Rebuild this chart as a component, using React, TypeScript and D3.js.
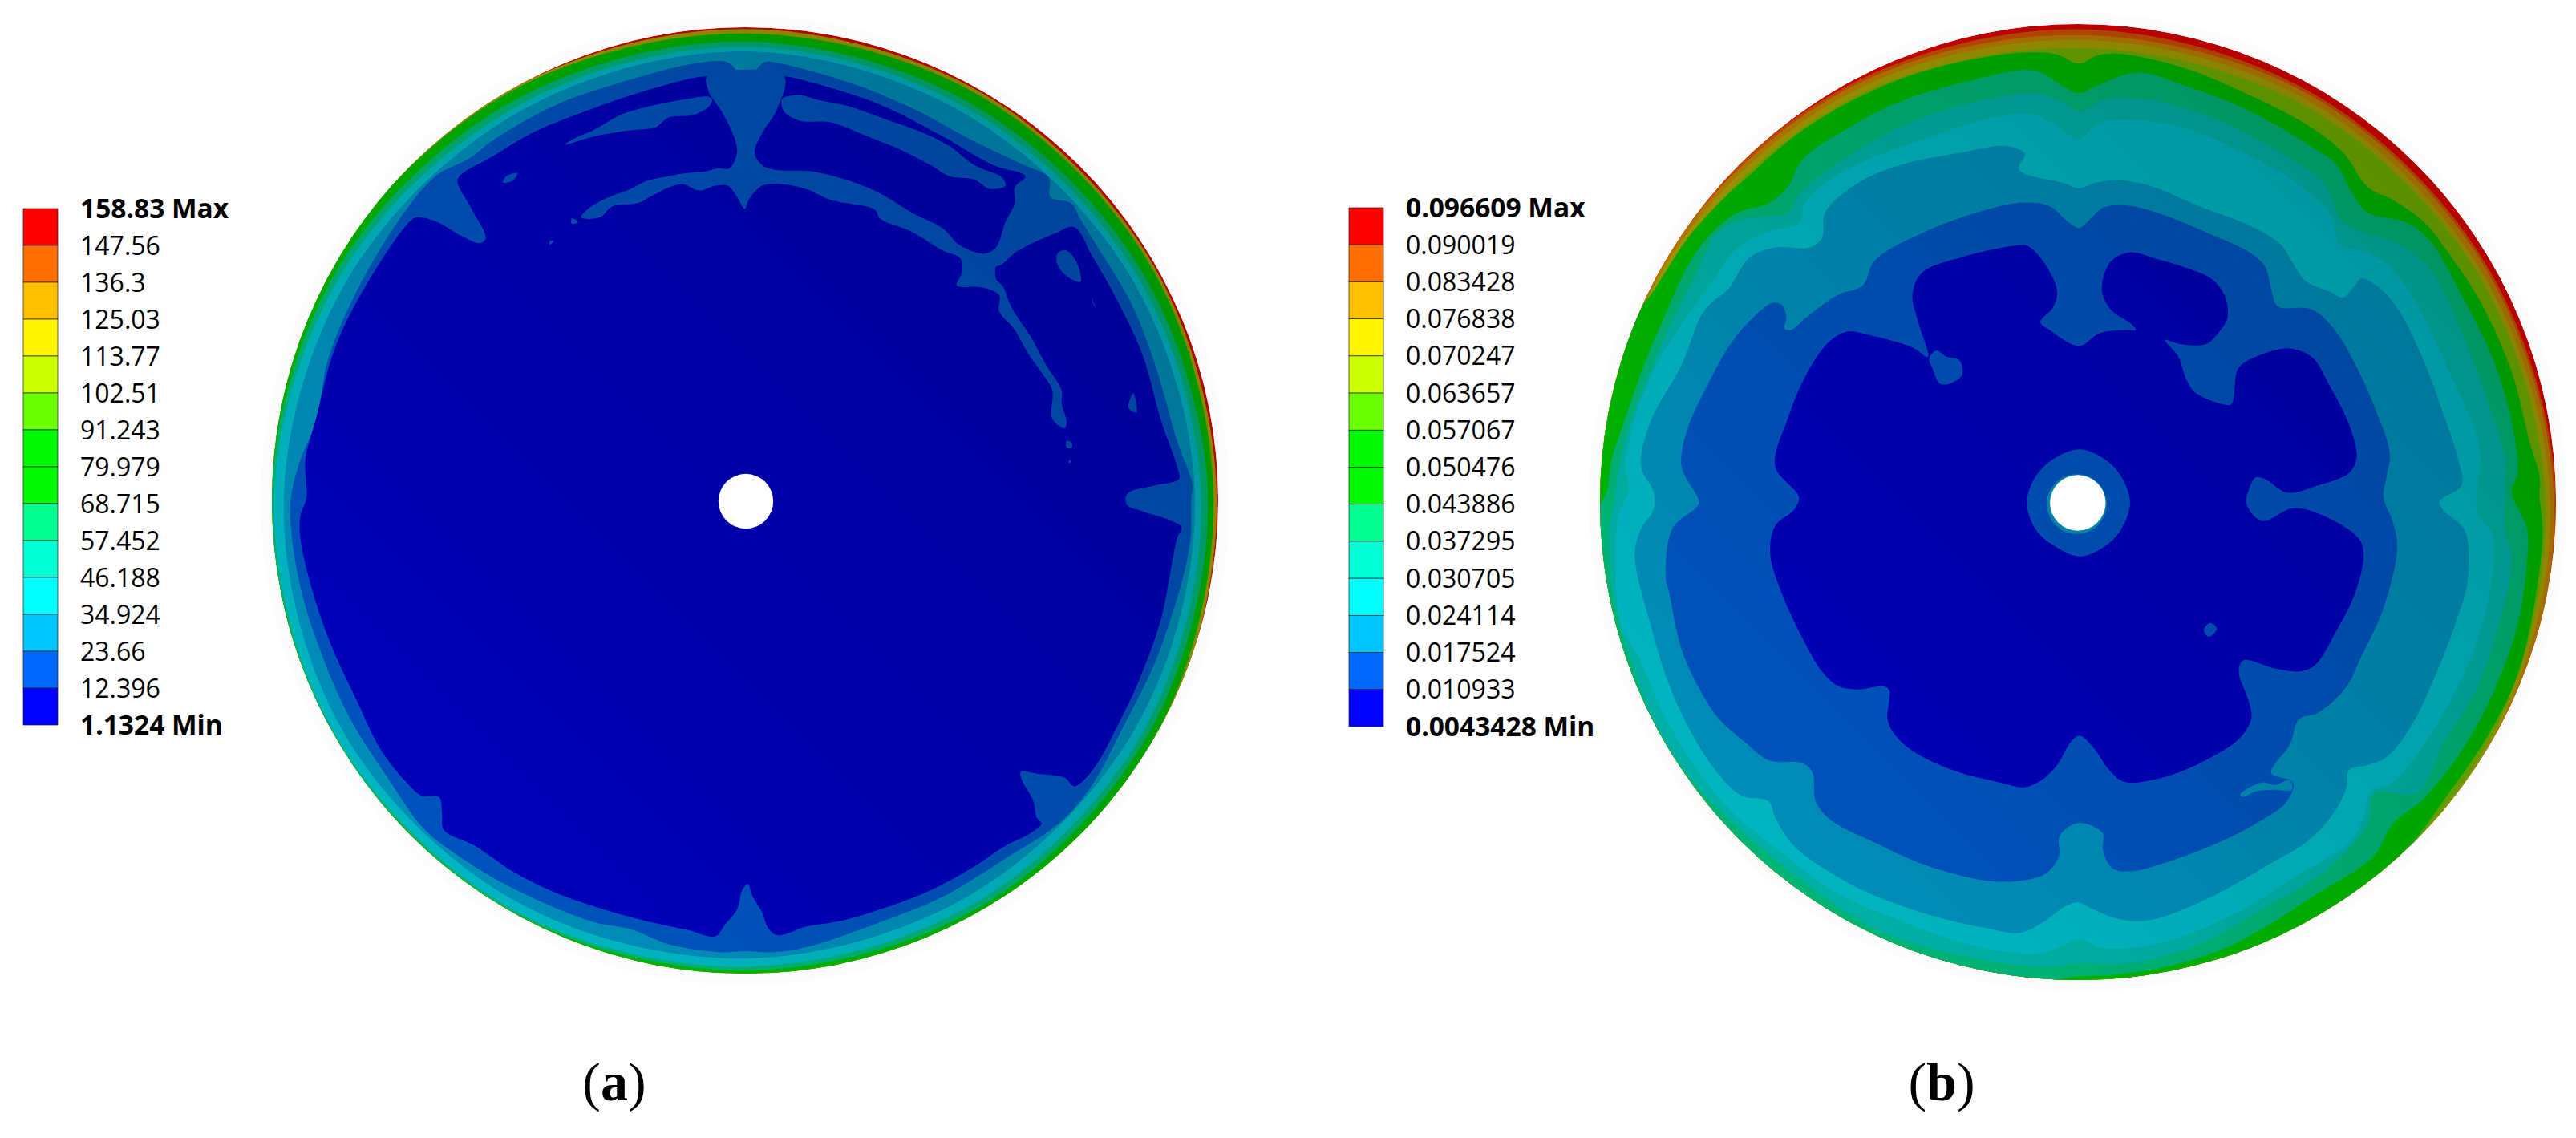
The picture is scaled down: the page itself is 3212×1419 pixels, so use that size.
import React from 'react'
import * as d3 from 'd3'

type Pt = [number, number]

// legend values
const labelsA = ['158.83 Max', '147.56', '136.3', '125.03', '113.77', '102.51', '91.243', '79.979', '68.715', '57.452', '46.188', '34.924', '23.66', '12.396', '1.1324 Min']
const labelsB = ['0.096609 Max', '0.090019', '0.083428', '0.076838', '0.070247', '0.063657', '0.057067', '0.050476', '0.043886', '0.037295', '0.030705', '0.024114', '0.017524', '0.010933', '0.0043428 Min']
const legendColors = ['#ff0000', '#ff6e00', '#ffc000', '#fff500', '#ccff00', '#6cff00', '#00f800', '#00f800', '#00ff90', '#00ffd4', '#00ffff', '#00c6ff', '#0068ff', '#0000ff']

// band colours of the plot (a little dimmer than the legend, the render is shaded)
const cCore = '#0000bc'
const cBlue = '#0054c0'
const cTeal = '#008fbb'
const cCyan = '#00b8c4'
const cCyan2 = '#00b2a8'
const cSea = '#00b678'
const cGreen = '#00b800'
const cLime = '#70b000'
const cOlive = '#a8a000'
const cAmber = '#c08000'
const cOrange = '#d05000'
const cRed = '#e00000'

// rim bands: radius in % of the disc radius, read every 30 deg clockwise from the top
const rimAngles = [0, 30, 60, 90, 120, 150, 180, 210, 240, 270, 300, 330]
const rimA_olive = [99.6, 99.6, 99.6, 99.7, 100.5, 101, 101, 101, 101, 101, 101, 100]
const rimA_green = [98.7, 98.9, 99, 99, 100, 100.5, 100.5, 100.5, 100.5, 100.5, 100.5, 99.6]
const rimA_sea = [97, 96.5, 96.8, 97.8, 98.5, 99.2, 99.3, 99.9, 100.1, 100, 99, 97.6]
const rimA_cyan = [95.9, 95.2, 95.5, 96.4, 97.3, 98, 98.5, 99.4, 99.7, 99.5, 97.8, 96.2]
const rimA_teal = [94.9, 94, 94.2, 95.1, 95.5, 96, 96.8, 97.6, 98, 97.5, 96.1, 95]

const rimB_orange = [98.9, 98.6, 98.8, 100, 101, 101, 101, 101, 101, 101, 101, 99.6]
const rimB_amber = [97.7, 98, 98.3, 99.6, 101, 101, 101, 101, 101, 101, 100.2, 99]
const rimB_olive = [96.7, 96.8, 97.2, 98.8, 100, 101, 101, 101, 101, 101, 99.5, 98]
const rimB_lime = [95, 95.5, 96.3, 97.8, 99.5, 101, 101, 101, 101, 101, 98.5, 96.8]

// contours, x and y on a digitising grid of the disc
const aBlue: Pt[] = [[750, 143], [762, 155], [775, 190], [785, 196], [800, 170], [815, 145], [840, 150], [950, 210], [1050, 290], [1150, 395], [1230, 470], [1270, 510], [1272, 570], [1305, 590], [1320, 640], [1345, 720], [1400, 900], [1440, 1100], [1475, 1340], [1500, 1480], [1498, 1517], [1497, 1637], [1485, 1767], [1440, 2037], [1390, 2237], [1335, 2437], [1285, 2547], [1200, 2657], [1100, 2777], [1000, 2857], [880, 2937], [830, 2952], [784, 2949], [740, 2952], [660, 2927], [600, 2880], [540, 2857], [405, 2745], [310, 2630], [265, 2557], [215, 2417], [150, 2217], [105, 2017], [72, 1817], [55, 1617], [55, 1517], [70, 1400], [95, 1280], [115, 1080], [165, 850], [240, 610], [290, 500], [340, 450], [380, 390], [480, 280], [600, 200], [700, 150]]
const aCore: Pt[] = [[700, 195], [722, 190], [784, 196], [845, 190], [900, 215], [1000, 280], [1100, 380], [1180, 470], [1232, 505], [1215, 540], [1215, 590], [1200, 650], [1185, 730], [1165, 750], [1150, 745], [1185, 790], [1220, 740], [1280, 685], [1310, 665], [1340, 760], [1380, 900], [1420, 1070], [1450, 1280], [1475, 1420], [1478, 1460], [1440, 1480], [1400, 1500], [1393, 1517], [1395, 1542], [1420, 1562], [1460, 1587], [1482, 1612], [1475, 1647], [1465, 1747], [1450, 1897], [1420, 2067], [1385, 2217], [1340, 2377], [1310, 2429], [1295, 2402], [1250, 2389], [1225, 2382], [1225, 2402], [1245, 2477], [1250, 2527], [1258, 2547], [1240, 2577], [1200, 2617], [1150, 2682], [1080, 2757], [1000, 2817], [940, 2852], [880, 2872], [835, 2899], [820, 2877], [810, 2827], [795, 2777], [787, 2737], [778, 2757], [770, 2817], [750, 2867], [735, 2902], [690, 2882], [620, 2852], [540, 2807], [470, 2757], [410, 2697], [350, 2617], [300, 2567], [297, 2517], [292, 2462], [265, 2459], [245, 2427], [200, 2317], [160, 2157], [120, 1987], [90, 1817], [70, 1647], [70, 1577], [80, 1517], [78, 1400], [95, 1270], [125, 1050], [175, 850], [250, 640], [262, 635], [290, 650], [330, 695], [358, 716], [367, 700], [345, 610], [322, 525], [325, 505], [380, 440], [440, 370], [500, 320], [600, 250]]
const aStalkArc: Pt[] = [[722, 190], [725, 240], [745, 300], [765, 380], [770, 430], [758, 480], [740, 480], [720, 490], [690, 495], [660, 505], [625, 520], [600, 545], [560, 575], [530, 610], [520, 635], [550, 635], [570, 600], [610, 590], [640, 560], [680, 530], [710, 550], [735, 535], [755, 535], [770, 570], [782, 608], [790, 575], [810, 535], [840, 530], [880, 545], [920, 580], [990, 610], [1000, 640], [1050, 680], [1100, 740], [1128, 765], [1130, 810], [1122, 850], [1160, 855], [1190, 880], [1190, 930], [1215, 990], [1235, 1060], [1260, 1130], [1275, 1180], [1275, 1270], [1295, 1300], [1298, 1280], [1290, 1220], [1290, 1180], [1265, 1100], [1240, 1010], [1210, 920], [1195, 850], [1185, 830], [1185, 790], [1200, 755], [1160, 750], [1125, 720], [1100, 670], [1050, 620], [1000, 560], [950, 520], [890, 490], [830, 485], [810, 470], [798, 430], [810, 370], [835, 290], [845, 190]]
const aBlobs: Pt[][] = [
  [[725, 255], [680, 265], [640, 280], [600, 300], [575, 320], [540, 360], [510, 385], [495, 405], [540, 380], [600, 360], [640, 350], [660, 320], [700, 312], [725, 285], [730, 265]],
  [[842, 262], [845, 300], [870, 330], [920, 335], [980, 380], [1030, 420], [1080, 470], [1110, 505], [1150, 515], [1175, 545], [1200, 535], [1195, 510], [1150, 470], [1110, 410], [1070, 370], [1000, 320], [950, 285], [900, 265], [870, 250]],
  [[1285, 745], [1298, 740], [1315, 780], [1320, 838], [1295, 815], [1282, 775]],
  [[395, 525], [400, 505], [418, 495], [410, 520]],
  [[1405, 1190], [1410, 1250], [1397, 1235]],
  [[1338, 890], [1345, 920], [1340, 905]],
  [[505, 637], [515, 650], [505, 655]],
  [[470, 710], [476, 708], [470, 722]],
  [[1298, 1340], [1306, 1345], [1306, 1362], [1298, 1360]],
  [[1302, 1400], [1306, 1405], [1302, 1410]],
]

const bGreen: Pt[] = [[787, 150], [815, 125], [850, 118], [950, 160], [1050, 240], [1150, 340], [1210, 430], [1250, 540], [1290, 580], [1340, 650], [1380, 750], [1430, 900], [1480, 1120], [1510, 1350], [1525, 1450], [1525, 1517], [1530, 1617], [1520, 1817], [1490, 2077], [1440, 2277], [1370, 2477], [1310, 2637], [1240, 2767], [1000, 3017], [785, 3077], [400, 2917], [100, 2517], [-10, 1917], [-20, 1517], [10, 1100], [100, 880], [160, 700], [220, 570], [260, 500], [330, 380], [420, 270], [520, 185], [620, 135], [700, 115], [750, 120]]
const bSea: Pt[] = [[787, 243], [815, 220], [880, 178], [950, 215], [1050, 290], [1150, 400], [1200, 470], [1225, 560], [1250, 620], [1310, 650], [1350, 710], [1400, 880], [1450, 1080], [1480, 1280], [1490, 1440], [1480, 1500], [1505, 1617], [1505, 1717], [1490, 1917], [1450, 2137], [1400, 2317], [1340, 2467], [1290, 2547], [1260, 2647], [1170, 2767], [1040, 2922], [950, 2987], [850, 3022], [780, 3029], [700, 3052], [500, 2967], [300, 2817], [150, 2517], [40, 2117], [10, 1717], [15, 1567], [30, 1500], [38, 1400], [58, 1280], [90, 1100], [122, 950], [165, 770], [200, 680], [240, 620], [290, 590], [320, 540], [345, 450], [420, 350], [500, 270], [600, 210], [715, 172], [760, 220]]
const bCyan2: Pt[] = [[787, 300], [830, 262], [900, 265], [1000, 320], [1100, 420], [1180, 530], [1205, 640], [1240, 680], [1290, 710], [1350, 800], [1400, 1000], [1440, 1200], [1470, 1400], [1470, 1500], [1470, 1617], [1480, 1717], [1460, 1917], [1425, 2117], [1370, 2297], [1330, 2447], [1260, 2452], [1250, 2547], [1180, 2697], [1080, 2817], [980, 2927], [870, 2987], [790, 2987], [740, 2997], [650, 2982], [470, 2887], [330, 2707], [240, 2557], [170, 2417], [110, 2237], [70, 2037], [40, 1817], [35, 1617], [42, 1537], [48, 1440], [66, 1290], [100, 1120], [135, 960], [172, 820], [205, 690], [250, 640], [320, 620], [340, 560], [400, 465], [500, 350], [620, 270], [720, 245], [760, 270]]
const bCyan: Pt[] = [[787, 388], [810, 350], [840, 328], [950, 350], [1050, 430], [1130, 520], [1190, 630], [1205, 720], [1250, 745], [1290, 800], [1340, 950], [1380, 1120], [1420, 1300], [1430, 1380], [1425, 1567], [1450, 1637], [1445, 1817], [1420, 1997], [1380, 2167], [1340, 2297], [1290, 2417], [1255, 2447], [1245, 2517], [1220, 2607], [1140, 2707], [1050, 2817], [960, 2897], [880, 2937], [820, 2937], [788, 2910], [760, 2932], [720, 2957], [620, 2932], [520, 2867], [400, 2767], [310, 2637], [235, 2517], [175, 2377], [125, 2217], [80, 2017], [52, 1917], [45, 1667], [50, 1567], [65, 1500], [60, 1420], [70, 1300], [110, 1100], [155, 960], [205, 820], [240, 730], [290, 680], [340, 650], [345, 600], [370, 540], [430, 470], [550, 380], [650, 320], [710, 310], [750, 345]]
const bTeal: Pt[] = [[787, 543], [815, 525], [850, 517], [900, 535], [980, 600], [1060, 660], [1110, 720], [1130, 780], [1150, 835], [1190, 870], [1210, 888], [1225, 860], [1240, 828], [1270, 860], [1300, 930], [1340, 1090], [1370, 1250], [1395, 1400], [1400, 1480], [1365, 1530], [1370, 1557], [1405, 1622], [1410, 1777], [1390, 1917], [1350, 2117], [1320, 2237], [1280, 2337], [1250, 2362], [1220, 2377], [1215, 2437], [1190, 2527], [1150, 2607], [1090, 2677], [1000, 2777], [920, 2842], [880, 2855], [840, 2842], [810, 2817], [785, 2795], [765, 2807], [730, 2857], [690, 2892], [640, 2877], [570, 2847], [490, 2797], [420, 2737], [330, 2617], [300, 2527], [290, 2477], [245, 2457], [200, 2367], [140, 2157], [100, 1917], [75, 1697], [85, 1617], [105, 1557], [105, 1500], [85, 1420], [100, 1280], [150, 1100], [180, 950], [195, 910], [225, 860], [260, 760], [300, 730], [355, 730], [375, 700], [380, 620], [430, 530], [500, 470], [600, 430], [670, 410], [700, 435], [690, 480], [700, 498], [760, 525]]
const bBlue: Pt[] = [[787, 668], [800, 650], [825, 605], [860, 597], [920, 625], [1000, 690], [1060, 745], [1085, 790], [1095, 860], [1105, 915], [1160, 925], [1195, 985], [1230, 1100], [1260, 1230], [1285, 1380], [1280, 1450], [1275, 1517], [1290, 1597], [1297, 1677], [1275, 1867], [1240, 2017], [1215, 2117], [1170, 2197], [1140, 2217], [1125, 2297], [1095, 2387], [1130, 2417], [1120, 2477], [1070, 2547], [1010, 2607], [930, 2667], [870, 2697], [840, 2687], [825, 2627], [825, 2577], [790, 2544], [770, 2557], [755, 2592], [755, 2647], [735, 2702], [700, 2725], [640, 2727], [540, 2677], [460, 2607], [390, 2537], [365, 2477], [360, 2387], [345, 2357], [290, 2347], [250, 2287], [210, 2217], [180, 2127], [150, 1997], [130, 1817], [125, 1777], [135, 1617], [175, 1547], [178, 1530], [150, 1420], [160, 1300], [190, 1170], [230, 1030], [265, 950], [295, 905], [310, 910], [318, 950], [315, 985], [325, 990], [350, 950], [400, 880], [440, 850], [460, 770], [540, 680], [640, 610], [700, 588], [740, 600], [770, 650]]
const bCore: Pt[] = [[787, 1040], [820, 1000], [860, 990], [878, 990], [870, 970], [840, 930], [825, 880], [825, 830], [840, 770], [870, 745], [910, 765], [960, 795], [1000, 830], [1020, 880], [1025, 950], [1010, 1000], [990, 1035], [950, 1035], [925, 1022], [945, 1070], [960, 1150], [975, 1190], [1030, 1225], [1035, 1200], [1040, 1120], [1050, 1095], [1090, 1060], [1125, 1048], [1160, 1075], [1190, 1170], [1220, 1290], [1232, 1390], [1220, 1440], [1170, 1480], [1120, 1503], [1085, 1460], [1070, 1455], [1060, 1490], [1055, 1537], [1080, 1592], [1130, 1552], [1180, 1577], [1235, 1647], [1243, 1697], [1230, 1817], [1200, 1937], [1165, 2047], [1140, 2067], [1100, 2057], [1050, 2032], [1043, 2067], [1060, 2167], [1063, 2217], [1045, 2277], [990, 2347], [920, 2402], [860, 2415], [835, 2377], [810, 2307], [788, 2270], [775, 2287], [750, 2367], [725, 2412], [700, 2432], [660, 2417], [590, 2382], [520, 2317], [490, 2262], [480, 2217], [483, 2127], [475, 2114], [430, 2124], [400, 2112], [375, 2067], [345, 1967], [310, 1817], [292, 1697], [300, 1607], [330, 1557], [338, 1517], [300, 1420], [320, 1270], [350, 1130], [385, 1030], [415, 995], [450, 1005], [520, 1045], [545, 1075], [530, 970], [520, 880], [535, 810], [600, 760], [680, 725], [705, 725], [735, 790], [752, 870], [745, 920], [725, 965], [740, 990]]
const bBlobs: Pt[][] = [
  [[547, 1080], [558, 1055], [575, 1075], [595, 1085], [600, 1130], [585, 1155], [565, 1160], [552, 1110]],
  [[997, 1914], [1008, 1932], [995, 1957], [987, 1937]],
]
const bTealSpeck: Pt[] = [[1045, 2455], [1080, 2417], [1100, 2425], [1125, 2410], [1128, 2440], [1100, 2440], [1070, 2445], [1050, 2462]]
// polygon round the bore of (b), % of the disc radius
const bBoreOct: Pt[] = [[0.4, 11.2], [5.5, 9.2], [8.8, 5.9], [10.9, 0], [8.8, -5.9], [5.5, -9.2], [0.4, -11.2], [-5.1, -8.9], [-8.8, -5.6], [-10.7, 0], [-8.8, 5.6], [-5.1, 9.2]]

const gridY = d3.scaleLinear().domain([0, 1568]).range([20, 640])
const gridXA = d3.scaleLinear().domain([0, 1568]).range([320, 1540])
const gridXB = d3.scaleLinear().domain([0, 1568]).range([1980, 3200])

const discA = { cx: 929, cy: 624, r: 590, bore: 34.2 }
const discB = { cx: 2591, cy: 626, r: 596, bore: 34.7 }

const closed = d3.curveCatmullRomClosed.alpha(0.5)

function Legend({ x, labels, top, bottom, textX }: { x: number; labels: string[]; top: number; bottom: number; textX: number }) {
  const y = d3.scaleLinear().domain([0, legendColors.length]).range([top, bottom])
  return (
    <g>
      {legendColors.map((c, i) => (
        <rect key={i} x={x} y={y(i)} width={43} height={y(i + 1) - y(i)} fill={c} stroke="#222" strokeWidth={0.7} />
      ))}
      {labels.map((l, i) => {
        const bold = i === 0 || i === labels.length - 1
        return (
          <text key={l} x={textX} y={y(i)} dy="0.36em" fontFamily="'Open Sans', sans-serif" fontSize={bold ? 33.5 : 32} fontWeight={bold ? 700 : 400} fill="#000">
            {l}
          </text>
        )
      })}
    </g>
  )
}

function Disc({ id, disc, gx, rims, contours, boreExtra }: {
  id: string
  disc: { cx: number; cy: number; r: number; bore: number }
  gx: d3.ScaleLinear<number, number>
  rims: [number[], string][]
  contours: [Pt[], string][]
  boreExtra?: React.ReactNode
}) {
  const rScale = d3.scaleLinear().domain([0, 100]).range([0, disc.r])
  const radial = d3.lineRadial<number>()
    .angle((_, i) => (rimAngles[i] * Math.PI) / 180)
    .radius((d) => rScale(d))
    .curve(closed)
  const contour = d3.line<Pt>().x((d) => gx(d[0])).y((d) => gridY(d[1])).curve(closed)
  return (
    <g>
      <defs>
        <clipPath id={`clip-${id}`}><circle cx={disc.cx} cy={disc.cy} r={disc.r} /></clipPath>
      </defs>
      <circle cx={disc.cx} cy={disc.cy} r={disc.r + 14} fill="#fcfcfc" />
      <g clipPath={`url(#clip-${id})`}>
        <circle cx={disc.cx} cy={disc.cy} r={disc.r} fill={cRed} />
        {rims.map(([vals, col], i) => (
          <path key={i} transform={`translate(${disc.cx},${disc.cy})`} d={radial(vals) as string} fill={col} />
        ))}
        {contours.map(([pts, col], i) => (
          <path key={i} d={contour(pts) as string} fill={col} />
        ))}
        {boreExtra}
        <rect x={disc.cx - disc.r} y={disc.cy - disc.r} width={disc.r * 2} height={disc.r * 2} fill="url(#shade)" />
      </g>
      <circle cx={gx(id === 'a' ? 784 : 785)} cy={disc.cy + 1} r={disc.bore} fill="#fff" />
    </g>
  )
}

export default function App() {
  const rB = d3.scaleLinear().domain([-100, 100]).range([-discB.r, discB.r])
  const oct = d3.line<Pt>().x((d) => discB.cx + rB(d[0])).y((d) => discB.cy + 1 - rB(d[1])).curve(closed)
  return (
    <svg width={3212} height={1419} style={{ position: 'absolute', left: 0, top: 0, display: 'block', background: '#fff' }}>
      <defs>
        <linearGradient id="shade" x1="0" y1="1" x2="1" y2="0">
          <stop offset="0.1" stopColor="#000" stopOpacity={0} />
          <stop offset="0.9" stopColor="#000" stopOpacity={0.2} />
        </linearGradient>
      </defs>
      <Legend x={29} labels={labelsA} top={260} bottom={904} textX={100} />
      <Legend x={1682} labels={labelsB} top={259} bottom={906} textX={1753} />
      <Disc
        id="a"
        disc={discA}
        gx={gridXA}
        rims={[[rimA_olive, cOlive], [rimA_green, cGreen], [rimA_sea, cSea], [rimA_cyan, cCyan], [rimA_teal, cTeal]]}
        contours={[[aBlue, cBlue], [aCore, cCore], [aStalkArc, cBlue], ...aBlobs.map((b) => [b, cBlue] as [Pt[], string])]}
      />
      <Disc
        id="b"
        disc={discB}
        gx={gridXB}
        rims={[[rimB_orange, cOrange], [rimB_amber, cAmber], [rimB_olive, cOlive], [rimB_lime, cLime]]}
        contours={[
          [bGreen, cGreen], [bSea, cSea], [bCyan2, cCyan2], [bCyan, cCyan], [bTeal, cTeal], [bBlue, cBlue],
          [bTealSpeck, cTeal], [bCore, cCore], ...bBlobs.map((b) => [b, cBlue] as [Pt[], string]),
        ]}
        boreExtra={
          <g>
            <path d={oct(bBoreOct) as string} fill={cBlue} />
            <circle cx={discB.cx - 1.5} cy={discB.cy + 2.5} r={37.5} fill={cTeal} />
          </g>
        }
      />
      <text x={766} y={1372} textAnchor="middle" fontFamily="'Liberation Serif', serif" fontSize={68}>
        (<tspan fontWeight={700}>a</tspan>)
      </text>
      <text x={2421} y={1372} textAnchor="middle" fontFamily="'Liberation Serif', serif" fontSize={68}>
        (<tspan fontWeight={700}>b</tspan>)
      </text>
    </svg>
  )
}
